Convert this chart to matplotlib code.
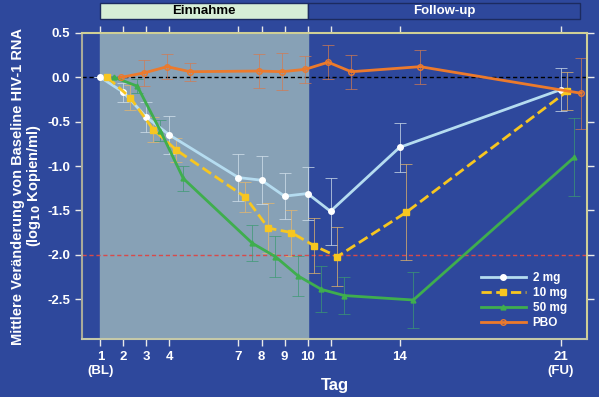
import matplotlib
matplotlib.use("Agg")
import matplotlib.pyplot as plt
import matplotlib.transforms as mtransforms
from matplotlib.patches import Rectangle
import numpy as np

plt.rcParams['font.family'] = ['Liberation Sans', 'DejaVu Sans']
plt.rcParams['font.weight'] = 'bold'

BG = '#2e489c'
SHADE = '#87a1b6'

days = [1, 2, 3, 4, 7, 8, 9, 10, 11, 14, 21]
tick_labels = ['1\n(BL)', '2', '3', '4', '7', '8', '9', '10', '11', '14', '21\n(FU)']

mg2 = [0.0, -0.17, -0.45, -0.65, -1.13, -1.16, -1.34, -1.31, -1.51, -0.79, -0.14]
mg2_err = [0.0, 0.11, 0.17, 0.21, 0.26, 0.27, 0.26, 0.30, 0.38, 0.28, 0.24]

mg10 = [0.0, -0.23, -0.59, -0.82, -1.35, -1.70, -1.75, -1.90, -2.02, -1.52, -0.155]
mg10_err = [0.0, 0.14, 0.14, 0.14, 0.17, 0.28, 0.26, 0.31, 0.33, 0.54, 0.21]

mg50 = [0.0, -0.10, -0.60, -1.14, -1.87, -2.02, -2.24, -2.39, -2.46, -2.51, -0.90]
mg50_err = [0.0, 0.08, 0.12, 0.14, 0.20, 0.23, 0.23, 0.26, 0.21, 0.32, 0.44]

pbo = [0.0, 0.05, 0.12, 0.063, 0.071, 0.063, 0.09, 0.17, 0.063, 0.12, -0.18]
pbo_err = [0.0, 0.15, 0.14, 0.10, 0.19, 0.21, 0.15, 0.19, 0.19, 0.19, 0.40]

series = [
    # label, values, errors, dodge, line colour, err colour, linestyle, marker, mfc
    ('2 mg', mg2, mg2_err, 0.0, '#b5dcf0', '#d6e4ee', '-', 'o', 'white'),
    ('10 mg', mg10, mg10_err, 0.3, '#f7c620', '#e8b86a', '--', 's', '#f7c620'),
    ('50 mg', mg50, mg50_err, 0.6, '#3fae4e', '#3c9a72', '-', '^', '#3fae4e'),
    ('PBO', pbo, pbo_err, 0.9, '#ec7a2c', '#d47a50', '-', 'o', 'none'),
]

fig = plt.figure(figsize=(5.99, 3.97), dpi=100)
fig.patch.set_facecolor(BG)
ax = fig.add_axes([0.137, 0.146, 0.843, 0.771])
ax.set_facecolor(BG)

ax.axvspan(1, 10, color=SHADE, zorder=0)
ax.axhline(0, color='black', ls=(0, (3, 2)), lw=1.0, zorder=1)
ax.axhline(-2.0, color='#d84a4a', ls=(0, (3, 2)), lw=1.0, zorder=1)

handles = []
for label, vals, errs, dx, col, ecol, ls, mk, mfc in series:
    x = np.array(days) + dx
    ax.errorbar(x, vals, yerr=errs, fmt='none', ecolor=ecol, elinewidth=0.7,
                capsize=4, capthick=0.7, alpha=0.7, zorder=2)
    ms = 4 if mk != '^' else 3.5
    h, = ax.plot(x, vals, color=col, ls=ls, lw=2.0, marker=mk, ms=ms,
                 markerfacecolor=mfc, markeredgecolor=col if mfc == 'none' else mfc,
                 markeredgewidth=1.0, label=label, zorder=3)
    handles.append(h)

ax.set_xlim(0.2, 22.15)
ax.set_ylim(-2.95, 0.5)
ax.set_xticks(days)
ax.set_xticklabels(tick_labels)
ax.set_yticks([0.5, 0.0, -0.5, -1.0, -1.5, -2.0, -2.5])
ax.set_yticklabels(['0.5', '0.0', '-0.5', '-1.0', '-1.5', '-2.0', '-2.5'])
ax.tick_params(axis='both', colors='#e8e8e8', labelcolor='white', labelsize=9.5,
               length=5, width=1, direction='out', top=True, right=True,
               labeltop=False, labelright=False)

for s in ax.spines.values():
    s.set_color('#cfcf96')
    s.set_linewidth(1.5)
ax.spines['left'].set_color('#a9ab9a')
ax.spines['bottom'].set_color('#c4c8a8')

ax.set_xlabel('Tag', color='white', fontsize=12, fontweight='bold', labelpad=1)
ax.set_ylabel('Mittlere Veränderung von Baseline HIV-1 RNA\n(log$_{\\mathbf{10}}$ Kopien/ml)',
              color='white', fontsize=10.5, fontweight='bold', labelpad=3, linespacing=1.0)

# phase boxes above the plot
trans = mtransforms.blended_transform_factory(ax.transData, ax.transAxes)
ax.add_patch(Rectangle((1, 1.046), 9, 0.052, transform=trans, clip_on=False,
                       facecolor='#d6eed6', edgecolor='#1c2b60', lw=1.0))
ax.add_patch(Rectangle((10, 1.046), 11.86, 0.052, transform=trans, clip_on=False,
                       facecolor=BG, edgecolor='#1c2b60', lw=1.0))
ax.text(5.5, 1.072, 'Einnahme', transform=trans, ha='center', va='center',
        fontsize=9.5, fontweight='bold', color='black')
ax.text(15.93, 1.072, 'Follow-up', transform=trans, ha='center', va='center',
        fontsize=9.5, fontweight='bold', color='white')

leg = ax.legend(handles=handles, loc='upper left', bbox_to_anchor=(0.78, 0.235),
                frameon=False, handlelength=3.8, fontsize=8.5, labelspacing=0.25,
                handletextpad=0.6, borderaxespad=0)
for t in leg.get_texts():
    t.set_color('white')
    t.set_fontweight('bold')

fig.savefig('out.png', dpi=100, facecolor=BG)
